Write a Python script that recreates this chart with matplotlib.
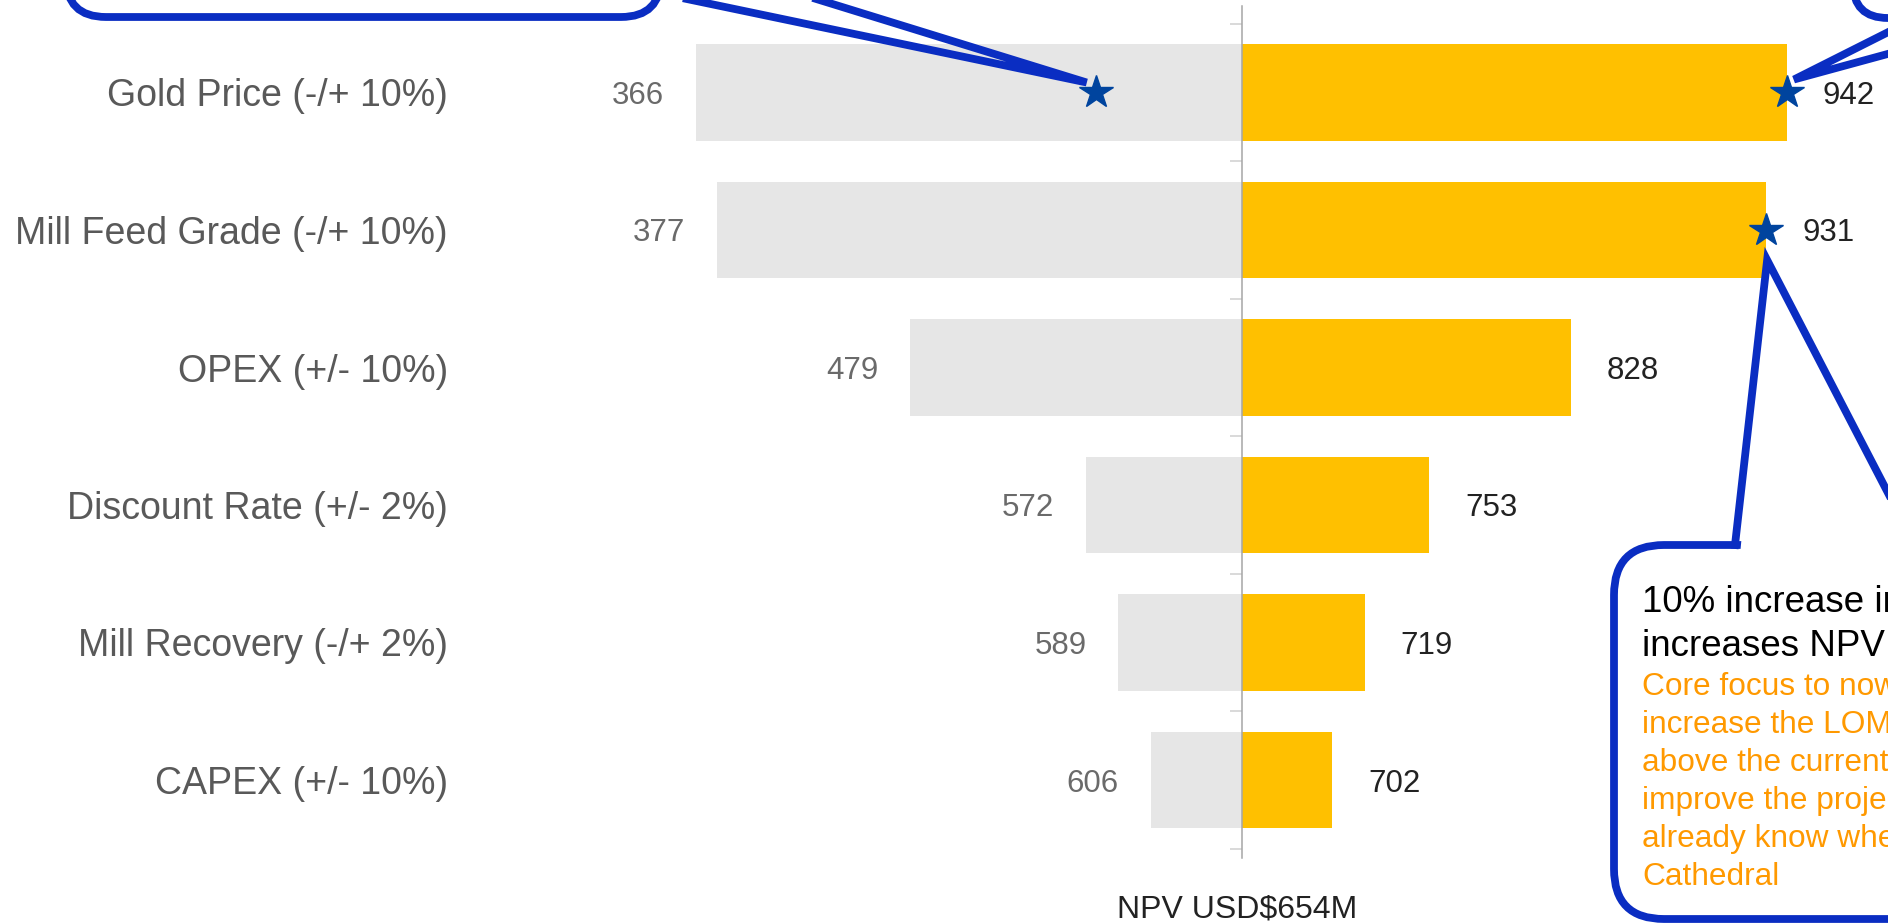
import numpy as np
import matplotlib.pyplot as plt
from matplotlib.patches import FancyBboxPatch, Polygon
from matplotlib.lines import Line2D
from matplotlib.transforms import Affine2D

# tornado data: NPV (USD M) at the low / high end of each sensitivity
categories = ['Gold Price (-/+ 10%)', 'Mill Feed Grade (-/+ 10%)', 'OPEX (+/- 10%)',
              'Discount Rate (+/- 2%)', 'Mill Recovery (-/+ 2%)', 'CAPEX (+/- 10%)']
npv_low = [366, 377, 479, 572, 589, 606]
npv_high = [942, 931, 828, 753, 719, 702]
npv_base = 654
base_label = 'NPV USD$654M'

# highlighted points (value, row)
star_values = [577, 942, 931]
star_rows = [0, 0, 1]

callout_head = ['10% increase in', 'increases NPV']
callout_body = ['Core focus to now', 'increase the LOM', 'above the current',
                'improve the project', 'already know where', 'Cathedral']

SANS = ['Liberation Sans', 'DejaVu Sans']
GOLD = '#FFC000'
GREY = '#E6E6E6'
BLUE = '#0A2DC2'
STAR = '#00449E'
ORANGE = '#FF9900'

W, H, DPI = 1888, 923, 100
fig = plt.figure(figsize=(W / DPI, H / DPI), dpi=DPI)

# axes placement in pixels (from top-left)
ax_left, ax_top, ax_bottom = 460, 6, 858
x_zero = 1241.5      # pixel of the base NPV
px_unit = 1.894      # pixels per USD M
row0, row_step = 92.5, 137.5

ax = fig.add_axes([ax_left / W, 1 - ax_bottom / H, (W - ax_left) / W, (ax_bottom - ax_top) / H])
ax.set_xlim(npv_base - (x_zero - ax_left) / px_unit, npv_base + (W - x_zero) / px_unit)
ax.set_ylim((ax_bottom - row0) / row_step, (ax_top - row0) / row_step)

rows = np.arange(len(categories))
low = np.array(npv_low)
high = np.array(npv_high)
ax.barh(rows, low - npv_base, left=npv_base, height=0.7, color=GREY, zorder=1)
ax.barh(rows, high - npv_base, left=npv_base, height=0.7, color=GOLD, zorder=1)

for s in ['top', 'right', 'bottom']:
    ax.spines[s].set_visible(False)
ax.spines['left'].set_position(('data', npv_base))
ax.spines['left'].set_color('#A6A6A6')
ax.spines['left'].set_linewidth(1.1)
ax.set_xticks([])
ax.set_yticks(np.arange(-0.5, len(categories)))
ax.tick_params(axis='y', length=8.5, width=1.1, color='#D0D0D0', labelleft=False)

for i, c in enumerate(categories):
    ax.text(-12 / (W - ax_left), i, c, transform=ax.get_yaxis_transform(),
            ha='right', va='center_baseline', fontsize=27, color='#595959', family=SANS)

for i, (lo, hi) in enumerate(zip(npv_low, npv_high)):
    ax.annotate(f'{lo}', xy=(lo, i), xytext=(-32, 0), textcoords='offset pixels',
                ha='right', va='center_baseline', fontsize=22.5, color='#6A6A6A', family=SANS)
    ax.annotate(f'{hi}', xy=(hi, i), xytext=(36, 0), textcoords='offset pixels',
                ha='left', va='center_baseline', fontsize=22.5, color='#222222', family=SANS,
                annotation_clip=False)

ax.annotate(base_label, xy=(npv_base, 0), xycoords=('data', 'axes fraction'),
            xytext=(-4, -52), textcoords='offset pixels', ha='center', va='center',
            fontsize=23, color='#222222', family=SANS, annotation_clip=False)

ax.plot(star_values, star_rows, linestyle='none', marker='*', markersize=25,
        color=STAR, zorder=6, clip_on=False)

# callouts drawn in pixel coordinates measured from the top-left corner
T = Affine2D().scale(1 / DPI, -1 / DPI).translate(0, H / DPI) + fig.dpi_scale_trans
LW = 5.6


def star_px(k, dx, dy):
    return (x_zero + (star_values[k] - npv_base) * px_unit + dx,
            row0 + star_rows[k] * row_step + dy)


def box(x, y, w, h, r):
    fig.patches.append(FancyBboxPatch((x, y), w, h, boxstyle=f'round,pad=0,rounding_size={r}',
                                      transform=T, fc='white', ec=BLUE, lw=LW, zorder=3))


def pointer(xs, ys):
    fig.lines.append(Line2D(xs, ys, transform=T, color=BLUE, lw=LW,
                            solid_joinstyle='miter', zorder=5))


# top-left callout -> star on gold price low side
box(66, -300, 595, 317, 40)
tx, ty = star_px(0, -9, -10)
pointer([500, tx, 690], [-40, ty, -40])

# top-right callout -> gold price high end
box(1853, -300, 400, 318, 35)
tx, ty = star_px(1, 7, -13)
pointer([1950, tx, 1950], [1, ty, 37])

# bottom-right callout -> mill feed grade high end
box(1614, 545, 600, 374, 50)
tx, ty = star_px(2, 1, 30)
fig.patches.append(Polygon([(1740, 555), (tx, ty + 8), (1912, 555)], closed=True,
                           transform=T, fc='white', ec='none', zorder=4))
pointer([1735, tx, 1915], [545, ty, 545])

for k, line in enumerate(callout_head):
    fig.text(1642, 612 + 44 * k, line, transform=T, ha='left', va='baseline',
             fontsize=26.5, color='black', family=SANS, zorder=6)
for k, line in enumerate(callout_body):
    fig.text(1642, 695 + 38 * k, line, transform=T, ha='left', va='baseline',
             fontsize=22.8, color=ORANGE, family=SANS, zorder=6)

fig.savefig('out.png', dpi=DPI)
